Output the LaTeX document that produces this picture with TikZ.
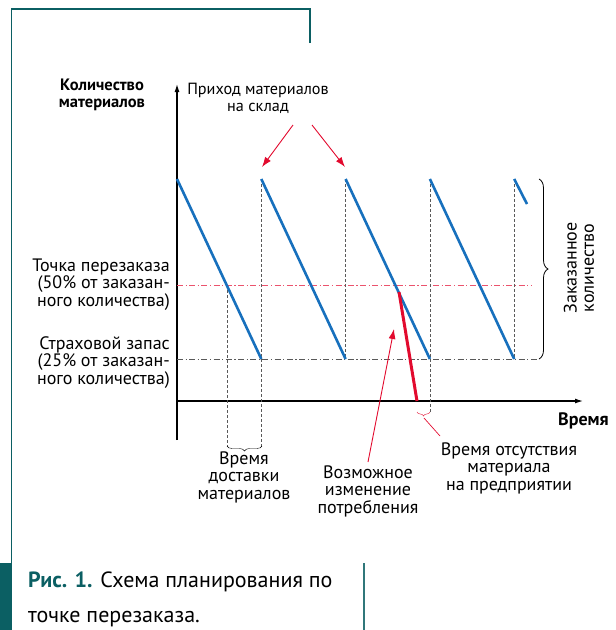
\documentclass[tikz,border=0pt]{standalone}
\usepackage{fontspec}
\setmainfont{PT Sans}
\usetikzlibrary{positioning}
\usetikzlibrary{arrows.meta}
\usetikzlibrary{decorations.pathreplacing}
\definecolor{ris-teal}{HTML}{0B5F63}
\definecolor{stock-blue}{HTML}{1770BD}
\definecolor{alarm-red}{HTML}{E20A2E}
\colorlet{level-red}{alarm-red!70}
\colorlet{level-gray}{black!65}
\tikzset{
  label-text/.style={font=\fontsize{18}{17.2}\selectfont, inner sep=0pt},
  axis-label/.style={font=\fontsize{16.5}{17}\selectfont\bfseries, inner sep=0pt},
  axis-path/.style={line width=1.2pt, -{Latex[length=8pt,width=5pt]}},
  stock-path/.style={line width=2.6pt, stock-blue},
  grid-path/.style={line width=0.7pt, dash pattern=on 3pt off 2pt, level-gray},
  level-path/.style={line width=0.7pt, dash pattern=on 6pt off 2.5pt on 1.2pt off 2.5pt},
  hint-path/.style={alarm-red, line width=0.9pt, -{Latex[length=10pt,width=7pt]}},
  brace-path/.style={decorate, decoration={brace, amplitude=#1}},
}
\newcommand{\tooth}{84.3}

\begin{document}
\begin{tikzpicture}[x=1pt, y=-1pt]
\useasboundingbox (0,0) rectangle (616,630);
% frame
\draw[ris-teal, line width=1.4pt] (310,43) -- (310,9) -- (11.5,9) -- (11.5,563);
\fill[ris-teal] (0,563) rectangle (12,630);
\draw[ris-teal!85, line width=1.4pt] (364,563) -- (364,630);
% axes
\coordinate (origin) at (177,401);
\coordinate (ytop) at (177,84);
\coordinate (ybottom) at (177,440);
\coordinate (xend) at (583,401);
\draw[axis-path] (ybottom) -- (ytop);
\draw[axis-path] (origin) -- (xend);
\node[axis-label, anchor=base, align=center] (qty) at (102,107) {Количество\\материалов};
\node[axis-label, anchor=base west, font=\fontsize{18}{18}\selectfont\bfseries] (time) at (558,425) {Время};
% levels
\draw[level-path, level-red] (177,285) -- (531,285);
\draw[level-path, level-gray] (177,359) -- (537,359);
% dashed verticals
\foreach \k in {1,...,4} {
  \draw[grid-path] (177+\tooth*\k,179) -- (177+\tooth*\k,359);
}
\draw[grid-path] (227,285) -- (227,447);
\draw[grid-path] (177+\tooth,359) -- (177+\tooth,447);
\draw[grid-path] (177+\tooth*3,359) -- (177+\tooth*3,413);
% stock
\foreach \k in {0,...,3} {
  \draw[stock-path] (177+\tooth*\k,179) -- (177+\tooth*\k+\tooth,359);
}
\draw[stock-path] (177+\tooth*4,179) -- (527,204);
\draw[alarm-red, line width=3pt] (399,292) -- (417,401);
% braces
\draw[thick, brace-path=9pt] (539,179) -- (539,359);
\draw[thin, brace-path=5pt] (262,446) -- (227,446);
\draw[alarm-red, thin, brace-path=4pt] (430,412) -- (417,412);
% labels
\node[label-text, anchor=base, align=center, font=\fontsize{16.2}{17}\selectfont] (arrival) at (258,111) {Приход материалов\\на склад};
\node[label-text, anchor=base east, align=right] (reorder) at (170,306) {Точка перезаказа\\(50\% от заказан-\\ного количества)};
\node[label-text, anchor=base east, align=right] (safety) at (170,384) {Страховой запас\\(25\% от заказан-\\ного количества)};
\node[label-text, anchor=center, align=center, rotate=90] (ordered) at (579,268) {Заказанное\\количество};
\node[label-text, anchor=base, align=center] (lead) at (244,499) {Время\\доставки\\материалов};
\node[label-text, anchor=base, align=center] (change) at (368,513) {Возможное\\изменение\\потребления};
\node[label-text, anchor=base, align=center] (shortage) at (509,490) {Время отсутствия\\материала\\на предприятии};
% pointers
\coordinate (arr1) at (262,167);
\coordinate (arr2) at (345,167);
\coordinate (chg-tip) at (394,329);
\coordinate (chg-foot) at (368,462);
\coordinate (gap-tip) at (424,418);
\coordinate (gap-foot) at (440,436);
\draw[hint-path] (293,125) -- (arr1);
\draw[hint-path] (312,125) -- (arr2);
\draw[hint-path] (chg-foot) -- (chg-tip);
\draw[alarm-red, line width=0.7pt] (gap-tip) -- (gap-foot);
% caption
\node[anchor=base west, inner sep=0pt, align=left, font=\fontsize{22}{35}\selectfont] (caption) at (28,622)
  {\textcolor{ris-teal}{\bfseries Рис. 1.} Схема планирования по\\точке перезаказа.};
\end{tikzpicture}
\end{document}
